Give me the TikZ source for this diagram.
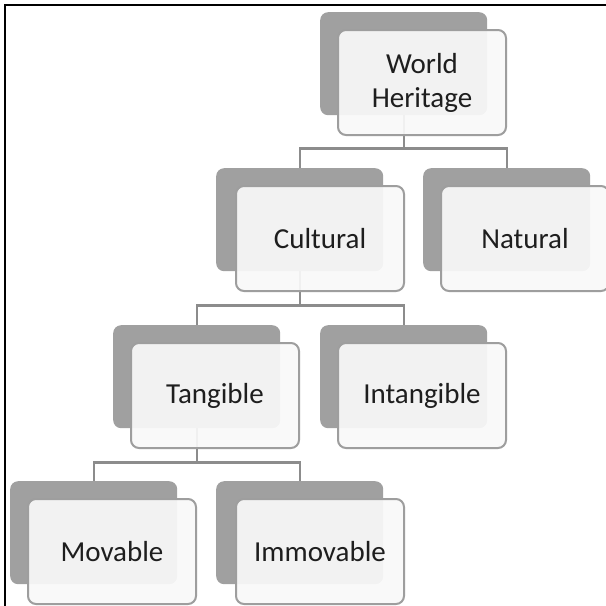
\documentclass[tikz,border=0pt]{standalone}
\usepackage{fontspec}
\setmainfont{Carlito}
\definecolor{darkfill}{HTML}{A0A0A0}
\definecolor{frontfill}{HTML}{F9F9F9}
\definecolor{edgegrey}{HTML}{9E9E9E}
\definecolor{conngrey}{HTML}{8C8C8C}
\definecolor{txt}{HTML}{1E1E1E}
\tikzset{
  darkbox/.style={draw=none, fill=darkfill, rounded corners=8pt, minimum width=167pt, minimum height=103pt, inner sep=0pt, anchor=north west},
  frontbox/.style={draw=edgegrey, line width=2pt, fill=frontfill, fill opacity=0.92, text opacity=1, text=txt, rounded corners=8pt, minimum width=168pt, minimum height=105pt, inner sep=0pt, anchor=north west, align=center, font=\fontsize{29}{34}\selectfont},
  conn/.style={draw=conngrey, line width=2.2pt},
  frameline/.style={draw=black, line width=2.5pt}
}
\begin{document}
\begin{tikzpicture}[x=1pt,y=-1pt]
\useasboundingbox (0,0) rectangle (606,606);
\fill[white] (0,0) rectangle (606,606);
% back boxes
\node[darkbox] (wd) at (320,12) {};
\node[darkbox] (cd) at (216,168) {};
\node[darkbox] (nd) at (423,168) {};
\node[darkbox] (td) at (113,325) {};
\node[darkbox] (id) at (320,325) {};
\node[darkbox] (md) at (10,481) {};
\node[darkbox] (imd) at (216,481) {};
% connectors
\draw[conn] (wd.south) -- ++(0,33) -| (cd.north);
\draw[conn] (wd.south) -- ++(0,33) -| (nd.north);
\draw[conn] (cd.south) -- ++(0,34) -| (td.north);
\draw[conn] (cd.south) -- ++(0,34) -| (id.north);
\draw[conn] (td.south) -- ++(0,34) -| (md.north);
\draw[conn] (td.south) -- ++(0,34) -| (imd.north);
% front boxes
\node[frontbox] (wf) at (337,29) {World\\Heritage};
\node[frontbox] (cf) at (235,185) {Cultural};
\node[frontbox] (nf) at (440,185) {Natural};
\node[frontbox] (tf) at (130,342) {Tangible};
\node[frontbox] (if) at (337,342) {Intangible};
\node[frontbox] (mf) at (27,498) {Movable};
\node[frontbox] (imf) at (235,498) {Immovable};
% frame
\draw[frameline] (5,606) -- (5,5) -- (606,5);
\end{tikzpicture}
\end{document}
